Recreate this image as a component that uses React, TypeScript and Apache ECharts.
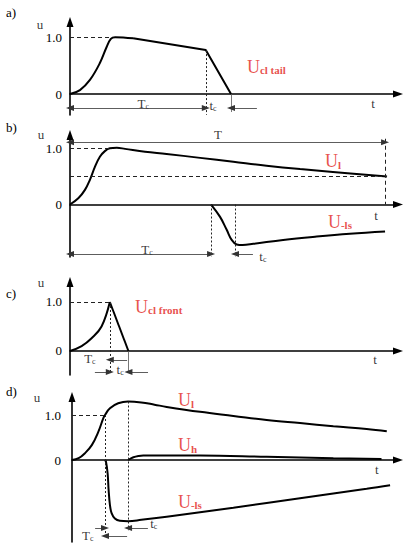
import React, { useEffect, useRef } from "react";
import * as echarts from "echarts";

const RED = "#e2231a";
const SERIF = "Liberation Serif";
const X_MAX = 98.8;

// ---------- panel a) ----------
const aRise = [[0, 0], [3, 0.07], [6, 0.25], [9, 0.55], [11, 0.83], [12.3, 0.98], [13.6, 1.01], [19, 0.99]];
const aTail = [[19, 0.99], [40.9, 0.78], [48.5, 0]];
const aDashes = [[[0, 1], [12.3, 1]]];
const aDots = [[[40.9, 0.78], [40.9, -0.37]]];
const aTicks = [[[48.5, 0], [48.5, -0.32]]];
const aArrowsBoth = [[[0, -0.25], [40.9, -0.25]]];
const aArrowsEnd = [[[56.3, -0.25], [48.5, -0.25]]];
const aTexts = [
  ["T|c", 22.1, -0.16, "black"],
  ["t|c", 43.1, -0.21, "black"],
  ["t", 91.3, -0.16, "black"],
  ["u", -9, 1.24, "black"],
  ["U|cl tail", 53.3, 0.48, "red"],
];

// ---------- panel b) ----------
const bUl = [[0, 0], [2.5, 0.11], [4.5, 0.26], [6, 0.44], [7.5, 0.67], [9, 0.85], [10.5, 0.95], [12, 1.0], [14.1, 1.01], [16.6, 0.99], [22.6, 0.94], [29.1, 0.9], [39.2, 0.83], [49.2, 0.76], [59.2, 0.69], [69.3, 0.63], [79.2, 0.58], [95.5, 0.5]];
const bUls = [[42.5, 0], [45.2, -0.22], [47.2, -0.45], [48.7, -0.63], [50.2, -0.71], [52, -0.72], [55.2, -0.7], [64.2, -0.63], [74.3, -0.57], [84.3, -0.52], [94.9, -0.48]];
const bDashes = [[[0, 1], [12, 1]], [[0, 0.5], [95.5, 0.5]], [[94.9, 1.17], [94.9, 0]]];
const bDots = [[[42.5, 0], [42.5, -0.93]], [[49.7, 0], [49.7, -0.93]]];
const bTicks: number[][][] = [];
const bArrowsBoth = [[[0, 1.11], [94.9, 1.11]], [[0, -0.88], [42.5, -0.88]]];
const bArrowsEnd = [[[55.1, -0.88], [49.7, -0.88]]];
const bTexts = [
  ["T", 44.6, 1.24, "black"],
  ["T|c", 23.2, -0.8, "black"],
  ["t|c", 58.1, -0.93, "black"],
  ["t", 92.2, -0.19, "black"],
  ["u", -8.7, 1.25, "black"],
  ["U|l", 76.8, 0.77, "red"],
  ["U|-ls", 77.7, -0.31, "red"],
];

// ---------- panel c) ----------
const cRise = [[0, 0], [3.5, 0.1], [6.5, 0.26], [9.5, 0.5], [12, 1.0]];
const cFall = [[12, 1.0], [17.6, 0]];
const cDashes = [[[0, 1], [12, 1]]];
const cDots = [[[12, 1], [12, -0.45]]];
const cTicks = [[[17.6, 0], [17.6, -0.45]]];
const cArrowsBoth: number[][][] = [];
const cArrowsEnd = [[[-5.4, -0.18], [0, -0.18]], [[17.2, -0.18], [12, -0.18]], [[7.5, -0.43], [12, -0.43]], [[23.5, -0.43], [17.6, -0.43]]];
const cTexts = [
  ["T|c", 6.0, -0.16, "black"],
  ["t|c", 15.1, -0.37, "black"],
  ["t", 91.9, -0.18, "black"],
  ["u", -8.7, 1.39, "black"],
  ["U|cl front", 19.6, 0.9, "red"],
];

// ---------- panel d) ----------
const dUl = [[0, 0], [2, 0.04], [3.9, 0.15], [6, 0.33], [8, 0.63], [9.5, 0.93], [10, 1.0], [11.5, 1.15], [14, 1.26], [17, 1.3], [21, 1.28], [25, 1.23], [28.7, 1.18], [38.8, 1.07], [48.9, 0.98], [59, 0.89], [69.1, 0.82], [79.2, 0.75], [89.3, 0.69], [95.4, 0.64]];
const dUh = [[17, 0], [18.6, 0.06], [20.2, 0.09], [21.6, 0.1], [38.8, 0.1], [59, 0.07], [79.2, 0.04], [93.8, 0.02]];
const dUls = [[10, 0], [10.3, -0.04], [10.8, -0.3], [11.1, -0.67], [11.5, -1.0], [12, -1.18], [13, -1.3], [14.5, -1.35], [17, -1.36], [21, -1.33], [28.7, -1.26], [48.9, -1.06], [69.1, -0.85], [89.3, -0.64], [96.4, -0.56]];
const dDashes = [[[0, 1], [10, 1]]];
const dDots = [[[10, 1], [10, -1.73]], [[17, 1.3], [17, -1.56]]];
const dTicks: number[][][] = [];
const dArrowsBoth: number[][][] = [];
const dArrowsEnd = [[[-6.1, -1.69], [0, -1.69]], [[16.7, -1.69], [10, -1.69]], [[7, -1.51], [10, -1.51]], [[23, -1.51], [17, -1.51]]];
const dTexts = [
  ["T|c", 4.8, -1.67, "black"],
  ["t|c", 24.8, -1.4, "black"],
  ["t", 92.4, -0.22, "black"],
  ["u", -10.6, 1.4, "black"],
  ["U|l", 32.1, 1.33, "red"],
  ["U|h", 32.1, 0.33, "red"],
  ["U|-ls", 32.1, -0.93, "red"],
];

const panelLetters = ["a)", "b)", "c)", "d)"];

// layout (pixels) and axis extents per panel
const layouts = [
  { left: 70, top: 22, height: 93, yMin: -0.373, yMax: 1.279, labelMargin: 8, letterTop: 6 },
  { left: 70, top: 135, height: 122, yMin: -0.934, yMax: 1.237, labelMargin: 8, letterTop: 121 },
  { left: 70, top: 282, height: 93, yMin: -0.49, yMax: 1.408, labelMargin: 8, letterTop: 287 },
  { left: 72, top: 397, height: 145, yMin: -1.822, yMax: 1.4, labelMargin: 11, letterTop: 385 },
];

const panels = [
  { curves: [{ d: aRise, smooth: 0.4 }, { d: aTail, smooth: 0 }], dashes: aDashes, dots: aDots, ticks: aTicks, both: aArrowsBoth, end: aArrowsEnd, texts: aTexts },
  { curves: [{ d: bUl, smooth: 0.4 }, { d: bUls, smooth: 0.4 }], dashes: bDashes, dots: bDots, ticks: bTicks, both: bArrowsBoth, end: bArrowsEnd, texts: bTexts },
  { curves: [{ d: cRise, smooth: 0.4 }, { d: cFall, smooth: 0 }], dashes: cDashes, dots: cDots, ticks: cTicks, both: cArrowsBoth, end: cArrowsEnd, texts: cTexts },
  { curves: [{ d: dUl, smooth: 0.4 }, { d: dUh, smooth: 0.4 }, { d: dUls, smooth: 0.4 }], dashes: dDashes, dots: dDots, ticks: dTicks, both: dArrowsBoth, end: dArrowsEnd, texts: dTexts },
];

const DASH = { type: [4, 3], width: 1, color: "#222" };
const DOT = { type: [2, 2], width: 1, color: "#222" };
const TICK = { type: "solid", width: 0.8, color: "#555" };
const DIM = { type: "solid", width: 0.8, color: "#333" };

function seg(p: number[][], style: any, s0: string, s1: string) {
  return [
    { coord: p[0], symbol: s0, lineStyle: style },
    { coord: p[1], symbol: s1 },
  ];
}

function makeLabel(txt: string, kind: string) {
  const [m, s] = txt.split("|");
  const str = s ? `{m|${m}}{s|${s}}` : `{m|${m}}`;
  const red = kind === "red";
  return {
    show: true,
    position: red ? "right" : "inside",
    distance: 0,
    formatter: str,
    rich: red
      ? {
          m: { fontSize: 18, color: RED, fontFamily: SERIF, lineHeight: 18 },
          s: { fontSize: 11, fontWeight: "bold", color: RED, fontFamily: SERIF, verticalAlign: "bottom", lineHeight: 11 },
        }
      : {
          m: { fontSize: 13, color: "#000", fontFamily: SERIF, lineHeight: 14 },
          s: { fontSize: 8, color: "#000", fontFamily: SERIF, verticalAlign: "bottom", lineHeight: 8 },
        },
  };
}

export default function App() {
  const ref = useRef<HTMLDivElement>(null);
  useEffect(() => {
    if (!ref.current) return;
    const chart = echarts.init(ref.current, null, { renderer: "svg" });
    const grid: any[] = [];
    const xAxis: any[] = [];
    const yAxis: any[] = [];
    const series: any[] = [];
    const graphic: any[] = [];
    layouts.forEach((L, i) => {
      grid.push({ left: L.left, top: L.top, height: L.height, width: 398 - L.left });
      xAxis.push({
        type: "value", gridIndex: i, min: 0, max: X_MAX,
        axisLine: { show: true, onZero: true, symbol: ["none", "triangle"], symbolSize: [7, 10], lineStyle: { color: "#000", width: 1.6 } },
        axisTick: { show: false }, axisLabel: { show: false }, splitLine: { show: false },
      });
      yAxis.push({
        type: "value", gridIndex: i, min: L.yMin, max: L.yMax,
        axisLine: { show: true, onZero: true, symbol: ["none", "triangle"], symbolSize: [7, 10], lineStyle: { color: "#000", width: 1.6 } },
        axisTick: { show: false },
        axisLabel: {
          show: true, customValues: [0, 1], margin: L.labelMargin,
          formatter: (v: number) => (v === 1 ? "1.0" : "0"),
          color: "#000", fontSize: 13, fontFamily: SERIF,
        },
        splitLine: { show: false },
      });
      const P = panels[i];
      P.curves.forEach((c) => {
        series.push({
          type: "line", xAxisIndex: i, yAxisIndex: i, data: c.d, smooth: c.smooth,
          showSymbol: false, symbol: "none", silent: true, clip: false,
          lineStyle: { color: "#000", width: 2 },
        });
      });
      const ml: any[] = [];
      P.dashes.forEach((p) => ml.push(seg(p, DASH, "none", "none")));
      P.dots.forEach((p) => ml.push(seg(p, DOT, "none", "none")));
      P.ticks.forEach((p) => ml.push(seg(p, TICK, "none", "none")));
      P.both.forEach((p) => ml.push(seg(p, DIM, "triangle", "triangle")));
      P.end.forEach((p) => ml.push(seg(p, DIM, "none", "triangle")));
      series.push({
        type: "scatter", xAxisIndex: i, yAxisIndex: i, symbolSize: 0, silent: true, clip: false,
        data: P.texts.map((t: any) => ({ value: [t[1], t[2]], label: makeLabel(t[0], t[3]) })),
        markLine: {
          silent: true, animation: false, symbolSize: [6, 8],
          label: { show: false }, emphasis: { disabled: true },
          data: ml,
        },
      });
      graphic.push({
        type: "text", left: 6, top: L.letterTop,
        style: { text: panelLetters[i], fontSize: 13, fontFamily: SERIF, fill: "#000" },
      });
    });
    chart.setOption({
      animation: false,
      backgroundColor: "#fff",
      grid, xAxis, yAxis, series, graphic,
    });
    return () => chart.dispose();
  }, []);
  return <div ref={ref} style={{ width: 407, height: 550, position: "absolute", left: 0, top: 0 }} />;
}
